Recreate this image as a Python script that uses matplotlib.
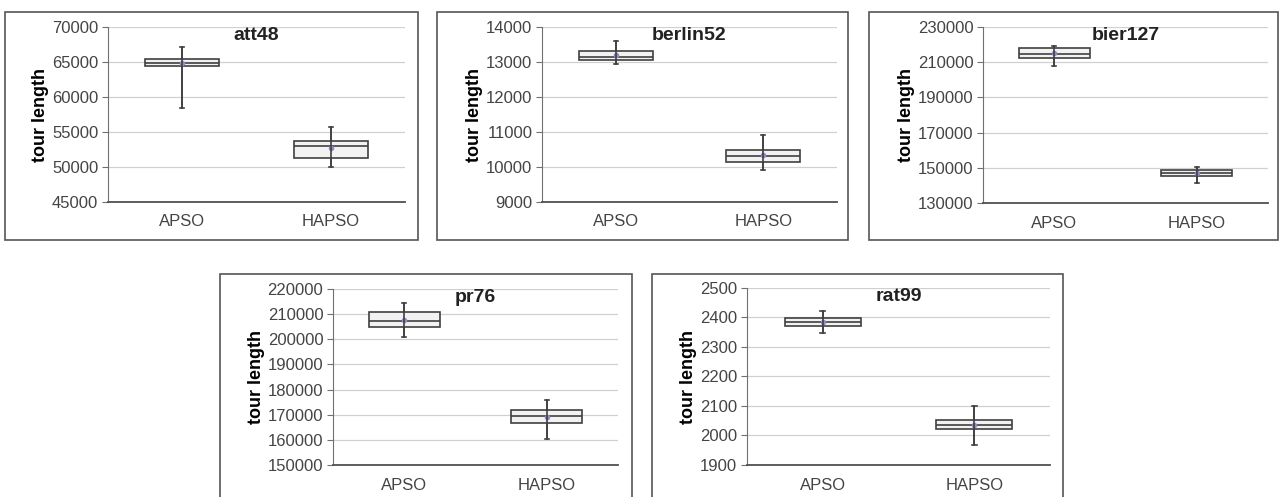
import matplotlib.pyplot as plt
from matplotlib.patches import Rectangle

plt.rcParams['font.family'] = ['Liberation Sans', 'DejaVu Sans']

algos = ['APSO', 'HAPSO']
problems = ['att48', 'berlin52', 'bier127', 'pr76', 'rat99']

# (low whisker, Q1, median, Q3, high whisker, mean) per algorithm
att48 = [[58500, 64400, 64800, 65500, 67200, 64800],
         [50000, 51300, 53000, 53700, 55700, 52700]]
berlin52 = [[12950, 13050, 13150, 13320, 13600, 13200],
            [9900, 10150, 10300, 10480, 10900, 10350]]
bier127 = [[208000, 212500, 214800, 218000, 219300, 215500],
           [141500, 145500, 147300, 149000, 150300, 147000]]
pr76 = [[201000, 204900, 207100, 210800, 214300, 207500],
        [160500, 166900, 169500, 171900, 175800, 169000]]
rat99 = [[2347, 2372, 2385, 2398, 2423, 2386],
         [1968, 2021, 2036, 2051, 2100, 2034]]

ylims = {'att48': (45000, 70000, 5000), 'berlin52': (9000, 14000, 1000),
         'bier127': (130000, 230000, 20000), 'pr76': (150000, 220000, 10000),
         'rat99': (1900, 2500, 100)}
data = {'att48': att48, 'berlin52': berlin52, 'bier127': bier127,
        'pr76': pr76, 'rat99': rat99}

W, H = 1282, 497
# axes (left, right, top, bottom) and frame (left, right, top, bottom) in pixels
axes_px = {'att48': (108, 405, 27, 202), 'berlin52': (542, 837, 27, 202),
           'bier127': (983, 1268, 27, 203), 'pr76': (333, 618, 289, 465),
           'rat99': (747, 1050, 288, 465)}
frame_px = {'att48': (5, 418, 12, 240), 'berlin52': (437, 848, 12, 240),
            'bier127': (869, 1278, 12, 240), 'pr76': (220, 632, 274, 510),
            'rat99': (652, 1063, 274, 510)}

fig = plt.figure(figsize=(W / 100, H / 100), dpi=100)

for name in problems:
    fl, fr, ft, fb = frame_px[name]
    fig.patches.append(Rectangle((fl / W, 1 - fb / H), (fr - fl) / W, (fb - ft) / H,
                                 transform=fig.transFigure, fill=False,
                                 edgecolor='#555555', linewidth=1.2))
    l, r, t, b = axes_px[name]
    ax = fig.add_axes([l / W, 1 - b / H, (r - l) / W, (b - t) / H])
    stats = []
    for algo, v in zip(algos, data[name]):
        stats.append({'label': algo, 'whislo': v[0], 'q1': v[1], 'med': v[2],
                      'q3': v[3], 'whishi': v[4], 'mean': v[5], 'fliers': []})
    ax.bxp(stats, positions=[1, 2], widths=0.5, patch_artist=True,
           showmeans=True, showfliers=False, capwidths=0.03,
           boxprops=dict(facecolor='#f2f2f2', edgecolor='#404040', linewidth=1.2),
           medianprops=dict(color='#404040', linewidth=1.2),
           whiskerprops=dict(color='#404040', linewidth=1.2),
           capprops=dict(color='#404040', linewidth=1.2),
           meanprops=dict(marker='o', markersize=3, markerfacecolor='#8c8cc8',
                          markeredgecolor='#8c8cc8'))
    # Excel-style: whisker line runs through the box
    lows = [v[0] for v in data[name]]
    highs = [v[4] for v in data[name]]
    ax.vlines([1, 2], lows, highs, color='#404040', linewidth=1.2, zorder=4)

    lo, hi, step = ylims[name]
    ax.set_ylim(lo, hi)
    ax.set_yticks(range(lo, hi + 1, step))
    ax.set_xlim(0.5, 2.5)
    ax.yaxis.grid(True, color='#d0d0d0', linewidth=0.9)
    ax.set_axisbelow(True)
    for s in ['top', 'right']:
        ax.spines[s].set_visible(False)
    ax.spines['left'].set_color('#707070')
    ax.spines['bottom'].set_color('#505050')
    ax.spines['bottom'].set_linewidth(1.3)
    ax.tick_params(axis='y', labelsize=12, colors='#444444', length=4,
                   color='#707070', pad=3)
    ax.tick_params(axis='x', labelsize=12, colors='#444444', length=0, pad=9)
    ax.set_ylabel('tour length', fontsize=13, fontweight='bold', labelpad=2)
    ax.text(0.5, 0.95, name, transform=ax.transAxes, ha='center', va='center',
            fontsize=14, fontweight='bold', color='#222222')

fig.savefig('out.png', dpi=100)
